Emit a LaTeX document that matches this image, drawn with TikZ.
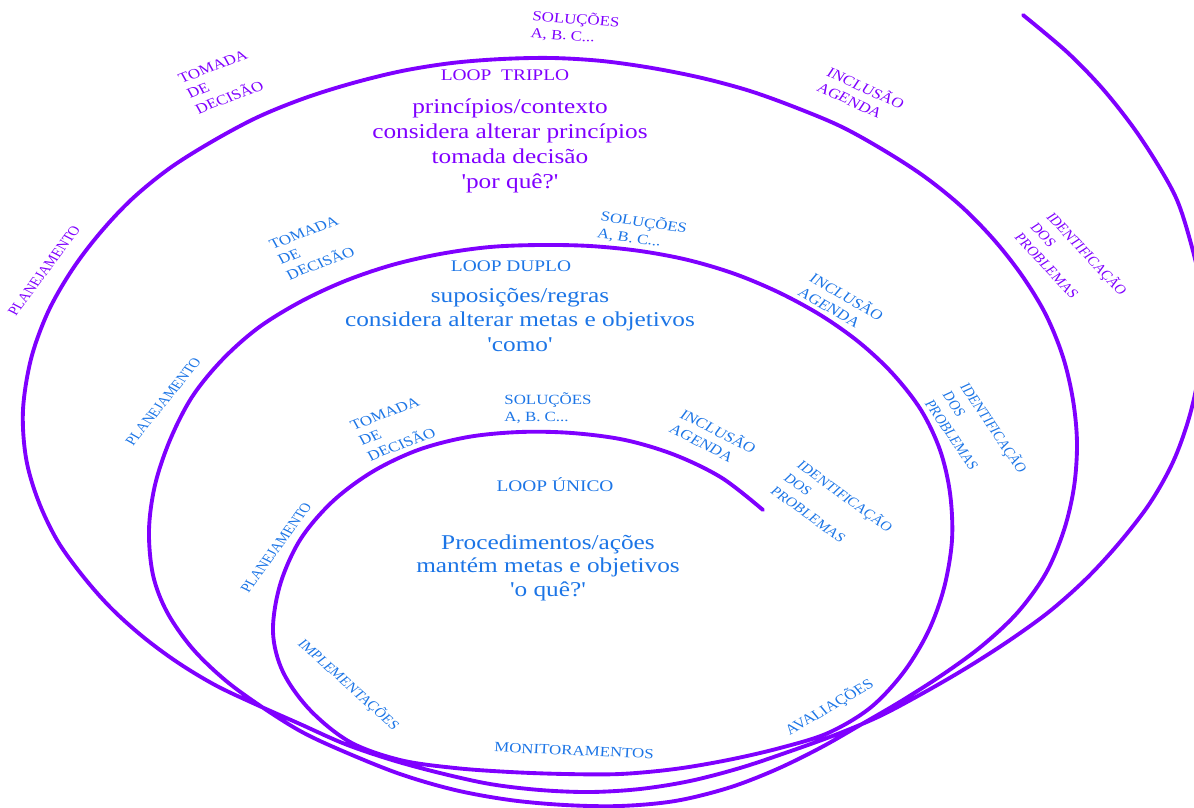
\documentclass[tikz,border=0pt]{standalone}
\usepackage{fontspec}
\setmainfont{Liberation Serif}
\usepackage{graphicx}
\definecolor{vio}{HTML}{7F00FF}
\definecolor{azul}{RGB}{28,117,230}
\newcommand{\rl}[2]{\scalebox{1.2}[1]{\rotatebox{#1}{\begin{tabular}{@{}l@{}}#2\end{tabular}}}}
\newcommand{\cl}[1]{\scalebox{1.2}[1]{\begin{tabular}{@{}c@{}}#1\end{tabular}}}
\begin{document}
\begin{tikzpicture}[x=0.02cm,y=-0.02cm,
  spiral/.style={vio, line width=2.2pt, line cap=round, line join=round},
  lbl/.style={inner sep=0pt, font=\fontsize{8}{9.6}\selectfont},
  sm/.style={font=\fontsize{7.4}{9.6}\selectfont},
  vlbl/.style={lbl, text=vio},
  blbl/.style={lbl, text=azul},
  ttl/.style={inner sep=0pt, font=\fontsize{9.2}{11}\selectfont},
  body/.style={inner sep=0pt, font=\fontsize{12}{14.2}\selectfont}]
\useasboundingbox (0,0) rectangle (1194,808);
\begin{scope}
\clip (0,0) rectangle (1194,808);
\draw[spiral] plot[smooth, tension=0.55] coordinates {
(763,510) (722,478) (675,455) (625,440) (572,433) (520,432) (468,437) (418,450)
(372,472) (332,502) (300,540) (280,585) (273,632) (283,672) (310,710) (350,742)
(400,760) (455,768) (510,772) (565,774) (620,774) (675,769) (728,760) (780,748)
(828,733) (870,708) (903,673) (928,632) (944,588) (952,540) (950,493) (940,450)
(921,410) (893,374) (860,343) (822,316) (780,293) (735,274) (688,260) (640,251)
(590,246) (540,245) (490,247) (440,254) (392,265) (345,281) (300,302) (258,328)
(222,360) (192,397) (170,440) (155,485) (149,530) (153,575) (167,612) (192,648)
(225,680) (262,707) (302,732) (345,752) (400,774) (455,790) (510,800) (565,805)
(620,806) (675,801) (728,788) (775,770) (820,748) (862,724) (903,700) (945,673)
(983,645) (1018,612) (1046,573) (1064,530) (1074,487) (1077,443) (1073,400)
(1063,357) (1046,315) (1023,277) (995,241) (962,207) (925,177) (885,151) (842,127)
(797,108) (750,91) (702,78) (652,68) (602,61) (552,58) (502,59) (452,63) (402,71)
(353,83) (305,98) (258,117) (213,141) (170,168) (132,199) (100,233) (72,270)
(48,312) (31,359) (23,410) (26,458) (38,500) (57,540) (82,575) (110,607) (142,636)
(177,662) (215,685) (255,704) (300,724) (345,744) (392,760) (440,773) (490,784)
(540,790) (590,792) (640,789) (690,781) (740,768) (788,752) (835,735) (880,716)
(925,692) (968,667) (1010,640) (1050,611) (1087,578) (1120,542) (1150,503)
(1173,462) (1189,418) (1199,373) (1203,328) (1200,283) (1190,240) (1177,200)
(1158,165) (1133,127) (1102,88) (1067,52) (1023,15)};
\end{scope}
% triple loop
\node[vlbl] (tsol) at (575,29) {\rl{-5}{SOLUÇÕES\\A, B. C...}};
\node[vlbl] (ttom) at (222,83) {\rl{24.7}{TOMADA\\DE\\DECISÃO}};
\node[vlbl] (tinc) at (860,97) {\rl{-29}{INCLUSÃO\\AGENDA}};
\node[vlbl, sm] (tid) at (1070,265) {\rl{-52}{IDENTIFICAÇÃO\\DOS\\PROBLEMAS}};
\node[vlbl, sm] (tpla) at (45,271) {\rl{58}{PLANEJAMENTO}};
\node[ttl, text=vio] (tloop) at (505,77) {\cl{LOOP\ \ TRIPLO}};
\node[body, text=vio] (tbody) at (510,146) {\cl{princípios/contexto\\considera alterar princípios\\tomada decisão\\\textquotesingle por quê?\textquotesingle}};
% double loop
\node[blbl] (dtom) at (313,249) {\rl{24.7}{TOMADA\\DE\\DECISÃO}};
\node[blbl] (dsol) at (642,232) {\rl{-9.6}{SOLUÇÕES\\A, B. C...}};
\node[blbl] (dinc) at (840,305) {\rl{-34.7}{INCLUSÃO\\AGENDA}};
\node[blbl, sm] (did) at (975,437) {\rl{-60.7}{IDENTIFICAÇÃO\\DOS\\PROBLEMAS}};
\node[blbl, sm] (dpla) at (164,402) {\rl{56}{PLANEJAMENTO}};
\node[ttl, text=azul] (dloop) at (511,268) {\cl{LOOP DUPLO}};
\node[body, text=azul] (dbody) at (520,322) {\cl{suposições/regras\\considera alterar metas e objetivos\\\textquotesingle como\textquotesingle}};
% single loop
\node[blbl] (stom) at (394,430) {\rl{24.7}{TOMADA\\DE\\DECISÃO}};
\node[blbl] (ssol) at (548,410) {\rl{0}{SOLUÇÕES\\A, B. C...}};
\node[blbl] (sinc) at (712,440) {\rl{-31.4}{INCLUSÃO\\AGENDA}};
\node[blbl, sm] (sid) at (831,510) {\rl{-41}{IDENTIFICAÇÃO\\DOS\\PROBLEMAS}};
\node[blbl, sm] (spla) at (277,548) {\rl{58.8}{PLANEJAMENTO}};
\node[blbl, sm] (simp) at (348,685) {\rl{-47.2}{IMPLEMENTAÇÕES}};
\node[blbl] (smon) at (574,752) {\rl{-3}{MONITORAMENTOS}};
\node[blbl] (sava) at (830,708) {\rl{34.7}{AVALIAÇÕES}};
\node[ttl, text=azul] (sloop) at (555,487) {\cl{LOOP ÚNICO}};
\node[body, text=azul, font=\fontsize{12}{13.4}\selectfont] (sbody) at (548,568) {\cl{Procedimentos/ações\\mantém metas e objetivos\\\textquotesingle o quê?\textquotesingle}};
\end{tikzpicture}
\end{document}
